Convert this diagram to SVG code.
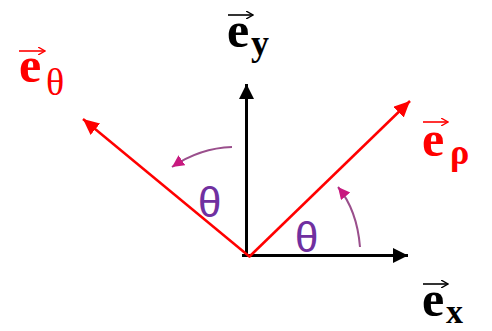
<svg xmlns="http://www.w3.org/2000/svg" width="492" height="331" viewBox="0 0 492 331">
<defs>
<style>
.ax{stroke:#000;stroke-width:3;fill:none}
.rv{stroke:#f00;stroke-width:2.5;fill:none}
.arc{stroke:#9a4f8c;stroke-width:2;fill:none}
.vec{stroke-width:1.6;fill:none}
.e{font-family:"Liberation Serif",serif;font-weight:bold;font-size:50px}
.sub{font-family:"Liberation Serif",serif;font-weight:bold;font-size:36px}
.th{font-family:"Liberation Sans",sans-serif;font-size:42px;fill:#7030a0}
</style>
<marker id="hk" markerUnits="userSpaceOnUse" markerWidth="16" markerHeight="16" refX="15" refY="8" orient="auto"><path d="M0,0.5 L15,8 L0,15.5 z" fill="#000"/></marker>
<marker id="hr" markerUnits="userSpaceOnUse" markerWidth="17" markerHeight="16" refX="16" refY="7.5" orient="auto"><path d="M0,0 L16,7.5 L0,15 z" fill="#f00"/></marker>
<marker id="hp" markerUnits="userSpaceOnUse" markerWidth="14" markerHeight="14" refX="12" refY="6" orient="auto"><path d="M0,0 L12,6 L0,12 z" fill="#c8197f"/></marker>
<marker id="sk" markerUnits="userSpaceOnUse" markerWidth="8" markerHeight="8" refX="7" refY="4" orient="auto"><path d="M0,0 L7,4 L0,8" fill="none" stroke="#000" stroke-width="1.4"/></marker>
<marker id="sr" markerUnits="userSpaceOnUse" markerWidth="8" markerHeight="8" refX="7" refY="4" orient="auto"><path d="M0,0 L7,4 L0,8" fill="none" stroke="#f00" stroke-width="1.4"/></marker>
</defs>
<g id="connectors">
<line class="ax" x1="246.5" y1="256" x2="246.5" y2="84" marker-end="url(#hk)"/>
<line class="ax" x1="242" y1="255.5" x2="408" y2="255.5" marker-end="url(#hk)"/>
<line class="rv" x1="249" y1="257" x2="410" y2="101" marker-end="url(#hr)"/>
<line class="rv" x1="250" y1="257" x2="83" y2="119" marker-end="url(#hr)"/>
<path class="arc" d="M232,147 Q200,148 172,167" marker-end="url(#hp)"/>
<path class="arc" d="M360,247 Q357,210 338,187" marker-end="url(#hp)"/>
</g>
<g id="label-ey">
<line class="vec" stroke="#000" x1="228" y1="15" x2="253" y2="15" marker-end="url(#sk)"/>
<text class="e" x="227" y="47">e</text>
<text class="sub" x="251" y="55">y</text>
</g>
<g id="label-etheta">
<line class="vec" stroke="#f00" x1="19" y1="51" x2="45" y2="51" marker-end="url(#sr)"/>
<text class="e" x="19" y="82" fill="#f00">e</text>
<text class="sub" x="46" y="95" fill="#f00" style="font-weight:normal;font-size:38px">θ</text>
</g>
<g id="label-erho">
<line class="vec" stroke="#f00" x1="423" y1="122" x2="448" y2="122" marker-end="url(#sr)"/>
<text class="e" x="422" y="156" fill="#f00">e</text>
<text class="sub" x="450" y="164" fill="#f00">ρ</text>
</g>
<g id="label-ex">
<line class="vec" stroke="#000" x1="423" y1="284" x2="448" y2="284" marker-end="url(#sk)"/>
<text class="e" x="422" y="316">e</text>
<text class="sub" x="446" y="323" style="font-size:34px">x</text>
</g>
<g id="theta-left"><text class="th" x="198" y="217">θ</text></g>
<g id="theta-right"><text class="th" x="295" y="252">θ</text></g>
</svg>
